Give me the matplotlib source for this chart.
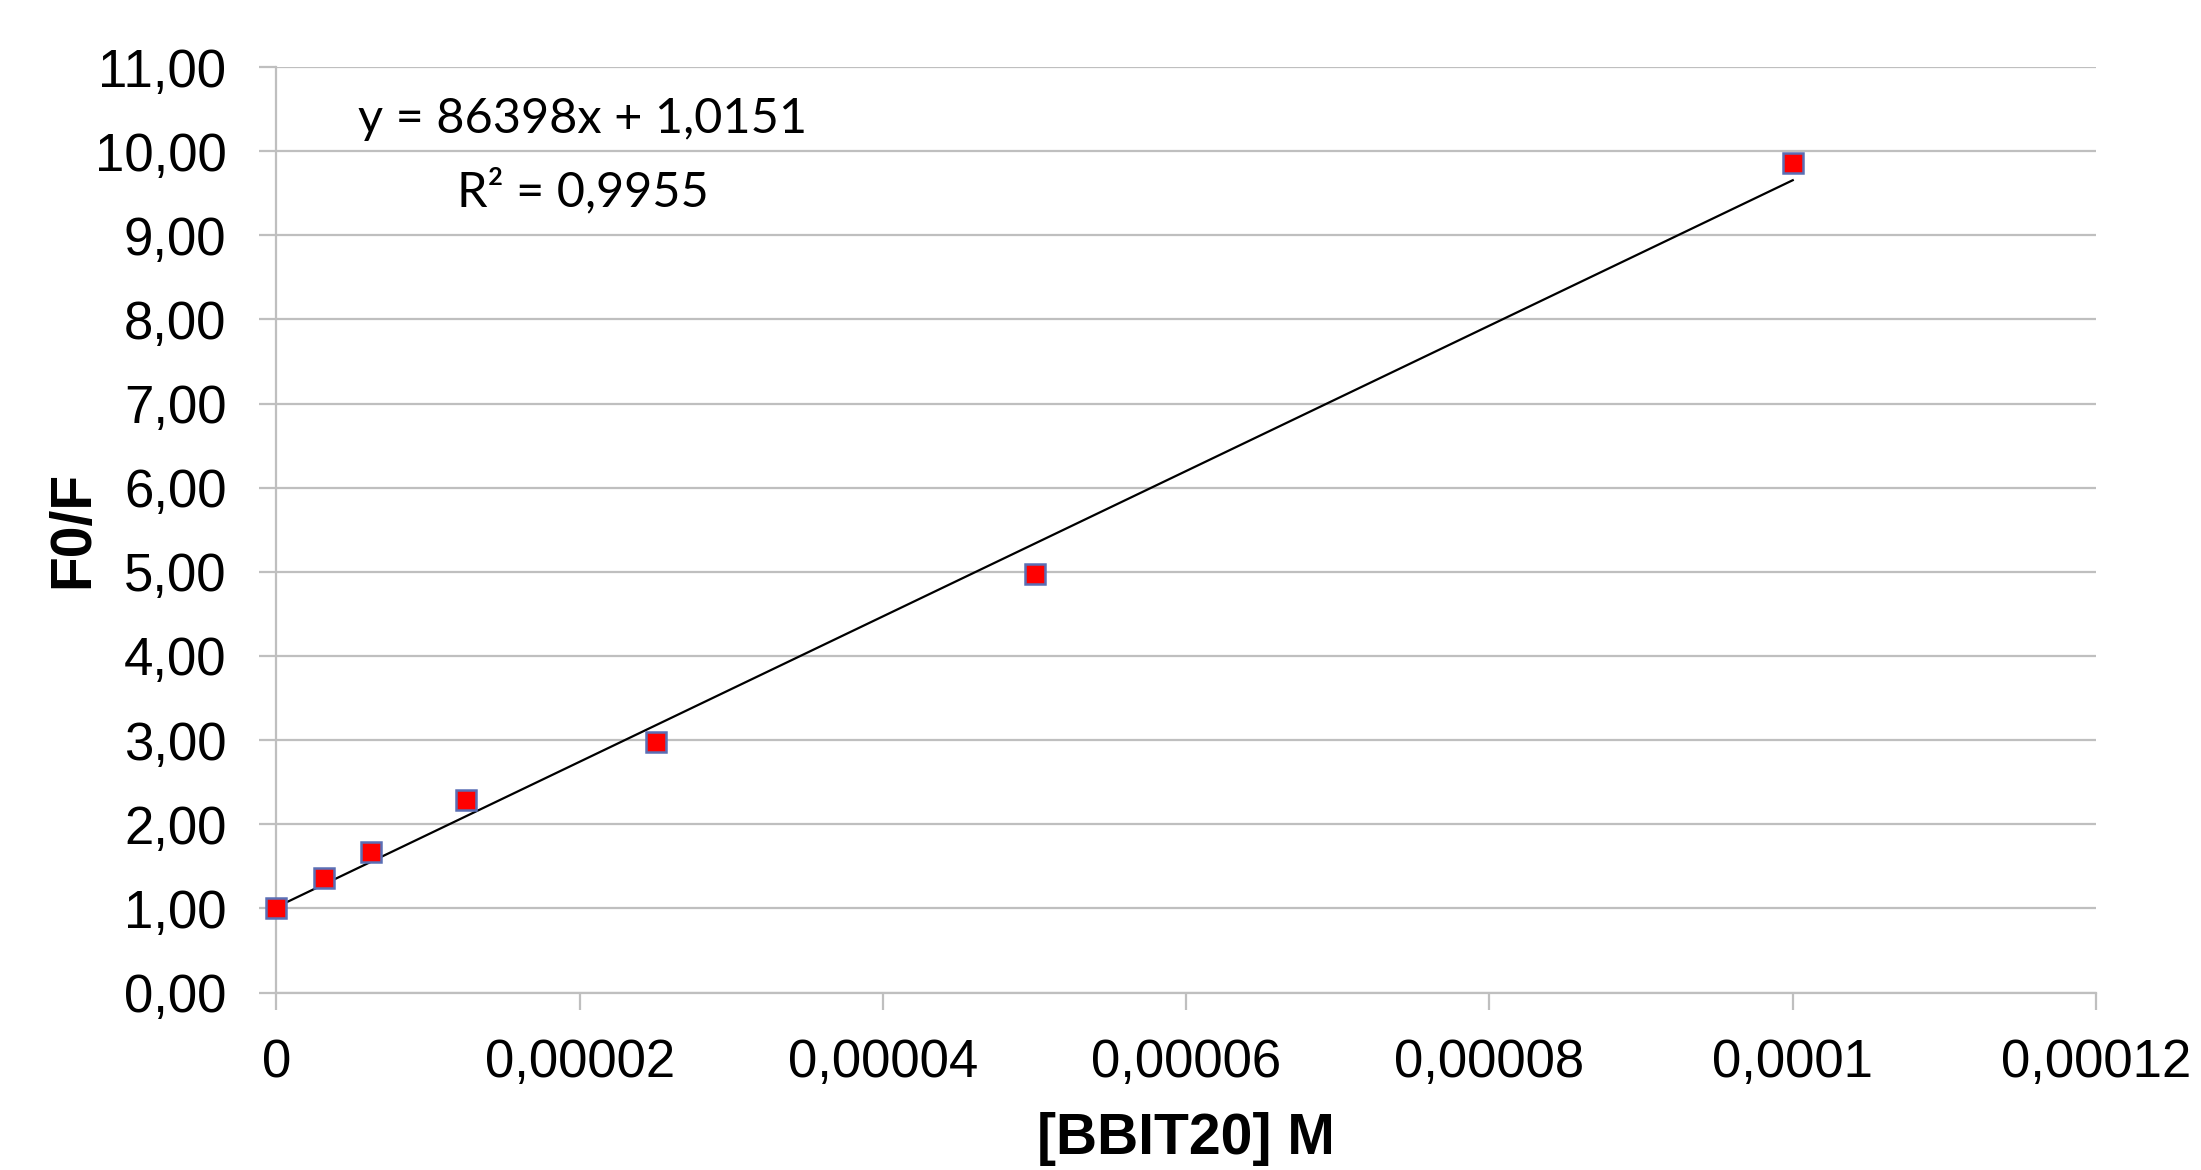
import numpy as np
import matplotlib.pyplot as plt
from matplotlib.ticker import FuncFormatter

# Data
conc = [0, 3.125e-6, 6.25e-6, 1.25e-5, 2.5e-5, 5e-5, 1e-4]   # [BBIT20] M
f0f = [1.00, 1.36, 1.67, 2.29, 2.98, 4.98, 9.86]             # F0/F

# Linear trendline as printed on the chart
slope = 86398
intercept = 1.0151
r2 = 0.9955

x_ticks = [0, 0.00002, 0.00004, 0.00006, 0.00008, 0.0001, 0.00012]
x_ticklabels = ['0', '0,00002', '0,00004', '0,00006', '0,00008', '0,0001', '0,00012']
y_ticks = np.arange(0, 12, 1)

grid_col = '#bfbfbf'

fig = plt.figure(figsize=(22.01, 11.70), dpi=100)
ax = fig.add_axes([0.1256, 0.1517, 0.8267, 0.791])

ax.set_xlim(0, 0.00012)
ax.set_ylim(0, 11)
ax.set_xticks(x_ticks)
ax.set_xticklabels(x_ticklabels)
ax.set_yticks(y_ticks)
ax.yaxis.set_major_formatter(FuncFormatter(lambda v, p: f'{v:.2f}'.replace('.', ',')))

ax.grid(axis='y', color=grid_col, linewidth=1.6)
ax.set_axisbelow(True)
for s in ['top', 'right']:
    ax.spines[s].set_visible(False)
for s in ['left', 'bottom']:
    ax.spines[s].set_color(grid_col)
    ax.spines[s].set_linewidth(1.6)

ax.tick_params(axis='both', colors=grid_col, labelcolor='black', width=1.6,
               length=12, labelsize=38)
ax.tick_params(axis='y', pad=24)
ax.tick_params(axis='x', pad=21)
for t in ax.get_xticklabels() + ax.get_yticklabels():
    t.set_family('Liberation Sans')

# trendline
xl = np.array([conc[0], conc[-1]])
ax.plot(xl, slope * xl + intercept, color='black', linewidth=1.6, zorder=2)

# data points
ax.plot(conc, f0f, linestyle='none', marker='s', markersize=14,
        markerfacecolor='#ff0000', markeredgecolor='#5a6fb5',
        markeredgewidth=1.8, zorder=3, clip_on=False)

ax.text(0.0000202, 10.38, f'y = {slope}x + {intercept}'.replace('.', ','),
        ha='center', va='center', fontsize=35, family='Lato')
ax.text(0.0000202, 9.52, f'R² = {r2}'.replace('.', ','),
        ha='center', va='center', fontsize=35, family='Lato')

ax.set_xlabel('[BBIT20] M', fontsize=41, fontweight='bold',
              family='Liberation Sans', labelpad=17)
ax.set_ylabel('F0/F', fontsize=41, fontweight='bold',
              family='Liberation Sans', labelpad=-4)

fig.savefig('out.png', dpi=100)
